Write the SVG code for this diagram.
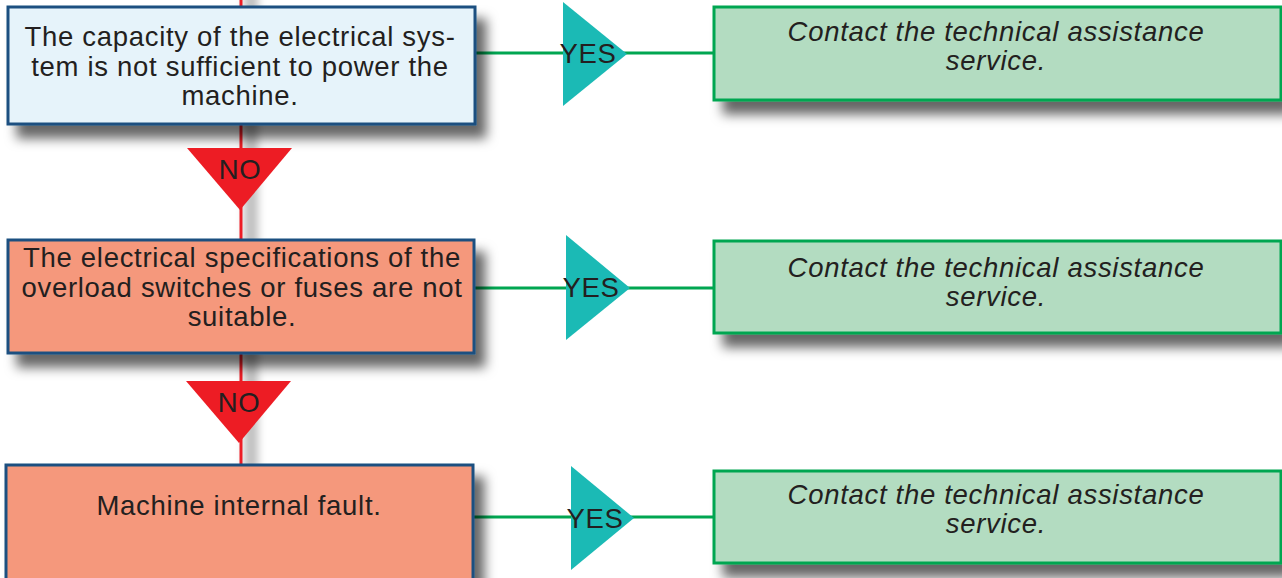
<svg xmlns="http://www.w3.org/2000/svg" width="1282" height="578" viewBox="0 0 1282 578">
<style>
.txt{font-family:"Liberation Sans",Arial,sans-serif;font-size:27.5px;letter-spacing:0.7px;fill:#231f20;text-anchor:middle}
.it{font-style:italic}
.cond{fill:#e6f3fa;stroke:#1c5080;stroke-width:3}
.warn{fill:#f5987b;stroke:#1c5080;stroke-width:3}
.act{fill:#b3dcc1;stroke:#00a651;stroke-width:3}
.yes{fill:#1bbab5}
.no{fill:#ed1c24}
.gl{stroke:#00a651;stroke-width:3;fill:none}
.rl{stroke:#ed1c24;stroke-width:3;fill:none}
</style>
<defs>
<filter id="sh" x="-10%" y="-20%" width="130%" height="170%">
<feDropShadow dx="10" dy="13" stdDeviation="6" flood-color="#000" flood-opacity="0.6"/>
</filter>
<filter id="bl" x="-200%" y="-5%" width="500%" height="110%">
<feGaussianBlur stdDeviation="4"/>
</filter>
</defs>
<rect width="1282" height="578" fill="#fff"/>
<g id="connectors">
<rect x="244" y="-10" width="14" height="480" fill="#000" opacity="0.25" filter="url(#bl)"/>
<line class="rl" x1="241" y1="0" x2="241" y2="466"/>
<line class="gl" x1="475" y1="53" x2="714" y2="53"/>
<line class="gl" x1="474" y1="288" x2="714" y2="288"/>
<line class="gl" x1="473" y1="517" x2="714" y2="517"/>
</g>
<g id="cond1">
<rect class="cond" x="8" y="7" width="467" height="117" filter="url(#sh)"/>
<text class="txt" x="240" y="46">The capacity of the electrical sys-</text>
<text class="txt" x="240" y="76">tem is not sufficient to power the</text>
<text class="txt" x="240" y="105">machine.</text>
</g>
<g id="cond2">
<rect class="warn" x="8" y="240" width="466" height="113" filter="url(#sh)"/>
<text class="txt" x="242" y="267">The electrical specifications of the</text>
<text class="txt" x="242" y="297">overload switches or fuses are not</text>
<text class="txt" x="242" y="326">suitable.</text>
</g>
<g id="cond3">
<rect class="warn" x="6" y="465" width="467" height="120" filter="url(#sh)"/>
<text class="txt" x="239" y="515">Machine internal fault.</text>
</g>
<g id="no1">
<polygon class="no" points="187,148 292,148 240,210"/>
<text class="txt" x="240" y="179">NO</text>
</g>
<g id="no2">
<polygon class="no" points="186,381 291,381 239,443"/>
<text class="txt" x="239" y="412">NO</text>
</g>
<g id="yes1">
<polygon class="yes" points="563,2 627,54 563,106"/>
<text class="txt" x="588" y="63">YES</text>
</g>
<g id="yes2">
<polygon class="yes" points="566,235 630,288 566,340"/>
<text class="txt" x="591" y="297">YES</text>
</g>
<g id="yes3">
<polygon class="yes" points="571,466 634,518 571,570"/>
<text class="txt" x="595" y="528">YES</text>
</g>
<g id="act1">
<rect class="act" x="714" y="7" width="567" height="93" filter="url(#sh)"/>
<text class="txt it" x="996" y="41">Contact the technical assistance</text>
<text class="txt it" x="996" y="70">service.</text>
</g>
<g id="act2">
<rect class="act" x="714" y="241" width="567" height="92" filter="url(#sh)"/>
<text class="txt it" x="996" y="277">Contact the technical assistance</text>
<text class="txt it" x="996" y="306">service.</text>
</g>
<g id="act3">
<rect class="act" x="714" y="471" width="567" height="92" filter="url(#sh)"/>
<text class="txt it" x="996" y="504">Contact the technical assistance</text>
<text class="txt it" x="996" y="533">service.</text>
</g>
</svg>
